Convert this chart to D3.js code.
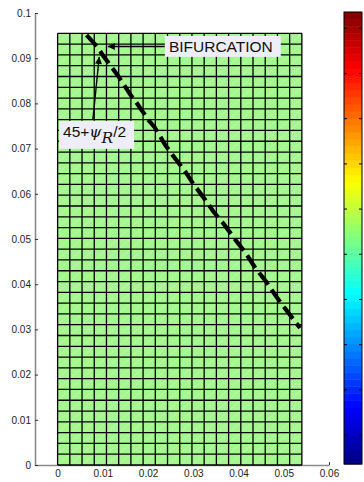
<!DOCTYPE html>
<html lang="en">
<head>
<meta charset="UTF-8" />
<title>Bifurcation mesh</title>
<style>
  body { margin: 0; background: #fff; }
  svg { display: block; font-family: "Liberation Sans", Arial, sans-serif; }
</style>
</head>
<body>
<div class="chart"></div>
<script src="https://d3js.org/d3.v7.min.js"></script>
<script>
// axis ticks
const xTicks = [0, 0.01, 0.02, 0.03, 0.04, 0.05, 0.06]
const yTicks = [0, 0.01, 0.02, 0.03, 0.04, 0.05, 0.06, 0.07, 0.08, 0.09, 0.1]

// mesh: 20 x 40 elements over 0.054 x 0.0955
const meshWidth = 0.054
const meshHeight = 0.0955
const meshCols = 20
const meshRows = 40

// shear band (dashed line)
const bandX = [0.0064, 0.0088, 0.0101, 0.0124, 0.0133, 0.0161, 0.0172, 0.0201, 0.0214, 0.0238, 0.0254, 0.0285, 0.0300, 0.0327, 0.0345, 0.0366, 0.0380, 0.0397, 0.0415, 0.0437, 0.0460, 0.0481, 0.0500, 0.0536]
const bandY = [0.0951, 0.0925, 0.0905, 0.0874, 0.0862, 0.0819, 0.0805, 0.0763, 0.0748, 0.0708, 0.0686, 0.0645, 0.0622, 0.0586, 0.0560, 0.0535, 0.0516, 0.0493, 0.0470, 0.0436, 0.0407, 0.0376, 0.0350, 0.0303]

// colorbar ticks (labels are cut off in the figure)
const cbarTicks = [1, 2, 3, 4, 5, 6, 7, 8, 9, 10]

const width = 364, height = 482

const svg = d3.select('.chart').append('svg')
  .attr('width', width)
  .attr('height', height)

const x = d3.scaleLinear().domain([-0.005, 0.06]).range([35, 329])
const y = d3.scaleLinear().domain([0, 0.1]).range([465, 13])

// axes (drawn first, mesh covers them like in the figure)
const xAxis = d3.axisBottom(x).tickValues(xTicks).tickSizeInner(-3).tickSizeOuter(0)
  .tickPadding(5).tickFormat(d => d3.format('~g')(d))
const yAxis = d3.axisLeft(y).tickValues(yTicks).tickSizeInner(-3).tickSizeOuter(0)
  .tickPadding(4).tickFormat(d => d3.format('~g')(d))

const gx = svg.append('g').attr('transform', `translate(0,${y(0)})`).call(xAxis)
const gy = svg.append('g').attr('transform', `translate(${x(-0.005)},0)`).call(yAxis)
for (const g of [gx, gy]) {
  g.select('.domain').attr('stroke', '#8a8a8a').attr('stroke-width', 1.6)
  g.selectAll('.tick line').attr('stroke', '#333')
  g.selectAll('.tick text').attr('fill', '#222').style('font-size', '10px')
}

// mesh cells
const colEdges = d3.range(meshCols + 1).map(i => i * meshWidth / meshCols)
const rowEdges = d3.range(meshRows + 1).map(j => j * meshHeight / meshRows)
const cells = []
for (let i = 0; i < meshCols; i++) {
  for (let j = 0; j < meshRows; j++) {
    cells.push({ x0: colEdges[i], x1: colEdges[i + 1], y0: rowEdges[j], y1: rowEdges[j + 1] })
  }
}
const mesh = svg.append('g')
mesh.selectAll('rect').data(cells).join('rect')
  .attr('x', d => x(d.x0))
  .attr('y', d => y(d.y1))
  .attr('width', d => x(d.x1) - x(d.x0))
  .attr('height', d => y(d.y0) - y(d.y1))
  .attr('fill', '#a3f78e')
mesh.selectAll('line.diag').data(cells).join('line')
  .attr('class', 'diag')
  .attr('x1', d => x(d.x0)).attr('y1', d => y(d.y0))
  .attr('x2', d => x(d.x1)).attr('y2', d => y(d.y1))
  .attr('stroke', '#c9fbbb').attr('stroke-width', 0.6)
mesh.selectAll('line.v').data(colEdges).join('line')
  .attr('class', 'v')
  .attr('x1', d => x(d)).attr('x2', d => x(d))
  .attr('y1', y(0)).attr('y2', y(meshHeight))
  .attr('stroke', '#000').attr('stroke-width', 1.3)
mesh.selectAll('line.h').data(rowEdges).join('line')
  .attr('class', 'h')
  .attr('y1', d => y(d)).attr('y2', d => y(d))
  .attr('x1', x(0)).attr('x2', x(meshWidth))
  .attr('stroke', '#000').attr('stroke-width', 1.3)

// shear band
svg.append('path')
  .datum(d3.zip(bandX, bandY))
  .attr('d', d3.line().x(d => x(d[0])).y(d => y(d[1])))
  .attr('fill', 'none')
  .attr('stroke', '#000')
  .attr('stroke-width', 4.2)
  .attr('stroke-dasharray', '15,6')

// arrow head marker
svg.append('defs').append('marker')
  .attr('id', 'head')
  .attr('viewBox', '0 0 10 10')
  .attr('refX', 10).attr('refY', 5)
  .attr('markerWidth', 10).attr('markerHeight', 7)
  .attr('markerUnits', 'userSpaceOnUse')
  .attr('orient', 'auto')
  .append('path').attr('d', 'M0,0 L10,5 L0,10 Z').attr('fill', '#000')

// annotations
const addLabel = (px, py, build) => {
  const g = svg.append('g')
  const box = g.append('rect').attr('fill', '#eeeef8')
  const t = g.append('text').attr('x', x(px)).attr('y', y(py))
    .style('font-size', '15.5px').attr('fill', '#111')
  build(t)
  const b = t.node().getBBox()
  box.attr('x', b.x - 4).attr('y', b.y - 2).attr('width', b.width + 12).attr('height', b.height + 4)
}

svg.append('line')
  .attr('x1', x(0.0237)).attr('y1', y(0.0926))
  .attr('x2', x(0.0111)).attr('y2', y(0.0926))
  .attr('stroke', '#000').attr('stroke-width', 1.4)
  .attr('marker-end', 'url(#head)')
addLabel(0.0246, 0.0914, t => t.text('BIFURCATION'))

svg.append('line')
  .attr('x1', x(0.0078)).attr('y1', y(0.0765))
  .attr('x2', x(0.0092)).attr('y2', y(0.0903))
  .attr('stroke', '#000').attr('stroke-width', 1.4)
  .attr('marker-end', 'url(#head)')
addLabel(0.0012, 0.0726, t => {
  t.append('tspan').text('45+')
  t.append('tspan').text('ψ').style('font-family', '"DejaVu Serif", serif').style('font-style', 'italic')
  t.append('tspan').attr('dy', 6).text('R').style('font-family', '"DejaVu Serif", serif').style('font-style', 'italic')
  t.append('tspan').attr('dy', -6).text('/2')
})

// colorbar
const cb = d3.scaleLinear().domain([0.36, 10.36]).range([464, 12])
const nColors = 64
const jet = t => {
  const c = v => Math.round(255 * Math.max(0, Math.min(1, v)))
  return `rgb(${c(1.5 - Math.abs(4 * t - 3))},${c(1.5 - Math.abs(4 * t - 2))},${c(1.5 - Math.abs(4 * t - 1))})`
}
const cbX0 = 344, cbX1 = 362
const bandH = (cb.range()[0] - cb.range()[1]) / nColors
svg.append('g').selectAll('rect').data(d3.range(nColors)).join('rect')
  .attr('x', cbX0)
  .attr('y', i => cb.range()[0] - (i + 1) * bandH)
  .attr('width', cbX1 - cbX0)
  .attr('height', bandH + 0.5)
  .attr('fill', i => jet((i + 0.5) / nColors))
svg.append('rect')
  .attr('x', cbX0).attr('y', cb.range()[1])
  .attr('width', cbX1 - cbX0).attr('height', cb.range()[0] - cb.range()[1])
  .attr('fill', 'none').attr('stroke', '#000').attr('stroke-width', 1)
const cbTicks = svg.append('g')
cbTicks.selectAll('line.l').data(cbarTicks).join('line').attr('class', 'l')
  .attr('x1', cbX0).attr('x2', cbX0 + 3)
  .attr('y1', d => cb(d)).attr('y2', d => cb(d))
  .attr('stroke', '#000')
cbTicks.selectAll('line.r').data(cbarTicks).join('line').attr('class', 'r')
  .attr('x1', cbX1 - 3).attr('x2', cbX1)
  .attr('y1', d => cb(d)).attr('y2', d => cb(d))
  .attr('stroke', '#000')
</script>
</body>
</html>
